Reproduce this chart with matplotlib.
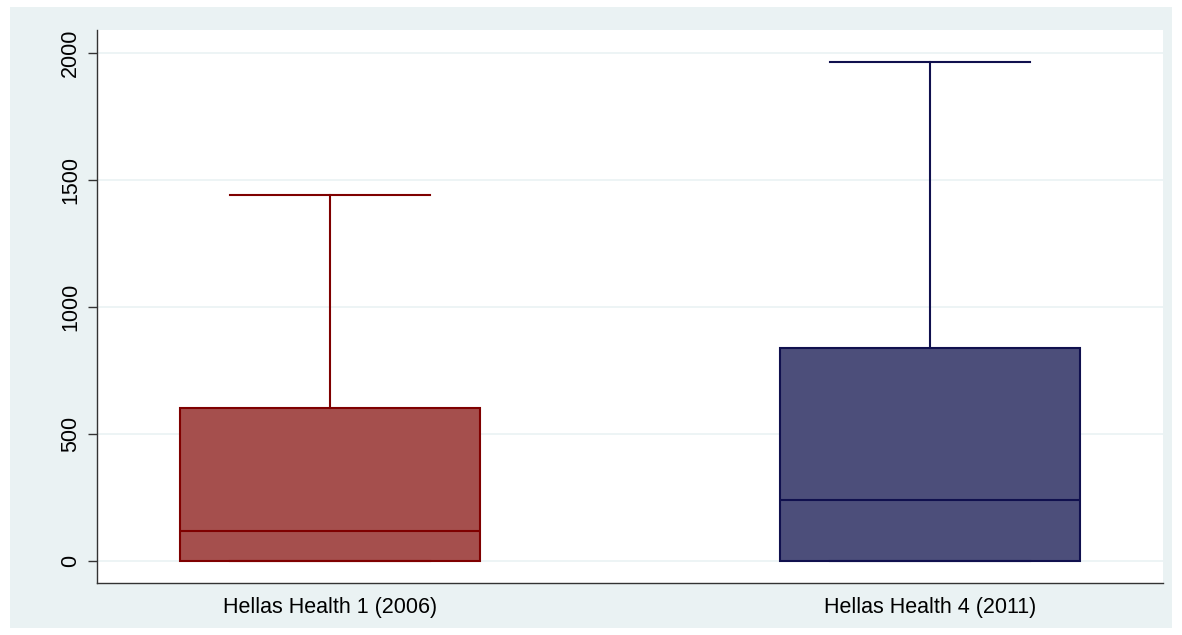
import matplotlib.pyplot as plt
from matplotlib.patches import Rectangle

plt.rcParams['font.family'] = ['Liberation Sans', 'DejaVu Sans']

labels = ["Hellas Health 1 (2006)", "Hellas Health 4 (2011)"]
whislo = [0, 0]
q1 = [0, 0]
med = [118, 239]
q3 = [600, 838]
whishi = [1440, 1962]
fills = ['#a54f4d', '#4c4e7a']
edges = ['#7f0000', '#10104e']

stats = []
for i in range(len(labels)):
    stats.append({'label': labels[i], 'whislo': whislo[i], 'q1': q1[i], 'med': med[i],
                  'q3': q3[i], 'whishi': whishi[i], 'fliers': []})

fig = plt.figure(figsize=(11.82, 6.35), dpi=100, facecolor='white')
fig.patches.append(Rectangle((10 / 1182, 7 / 635), 1162 / 1182, 621 / 635,
                             transform=fig.transFigure, facecolor='#eaf2f3',
                             edgecolor='none', zorder=-5))
ax = fig.add_axes([97 / 1182, 52 / 635, 1066 / 1182, 553 / 635])
ax.set_zorder(1)
ax.set_facecolor('white')

for i, s in enumerate(stats):
    bp = ax.bxp([s], positions=[i + 1], widths=0.5, patch_artist=True,
                showfliers=False, manage_ticks=False)
    for b in bp['boxes']:
        b.set_facecolor(fills[i])
        b.set_edgecolor(edges[i])
        b.set_linewidth(1.5)
    for key in ['whiskers', 'caps', 'medians']:
        for ln in bp[key]:
            ln.set_color(edges[i])
            ln.set_linewidth(1.5)
    for c in bp['caps']:
        c.set_xdata([i + 1 - 1 / 6, i + 1 + 1 / 6])

ax.set_xlim(0.612, 2.388)
ax.set_ylim(-88, 2089)
ax.set_xticks([1, 2])
ax.set_xticklabels(labels, fontsize=15.5)
ax.tick_params(axis='x', length=0, pad=10)
ax.set_yticks([0, 500, 1000, 1500, 2000])
ax.set_yticklabels(['0', '500', '1000', '1500', '2000'], rotation=90, va='center', fontsize=15.5)
ax.tick_params(axis='y', length=6.5, width=1, color='#333333', pad=5)
ax.grid(axis='y', color='#eaf2f3', linewidth=1.2)
ax.set_axisbelow(True)
for sp in ['top', 'right']:
    ax.spines[sp].set_visible(False)
for sp in ['left', 'bottom']:
    ax.spines[sp].set_color('#333333')
    ax.spines[sp].set_linewidth(1)

fig.savefig('out.png', dpi=100, facecolor=fig.get_facecolor())
